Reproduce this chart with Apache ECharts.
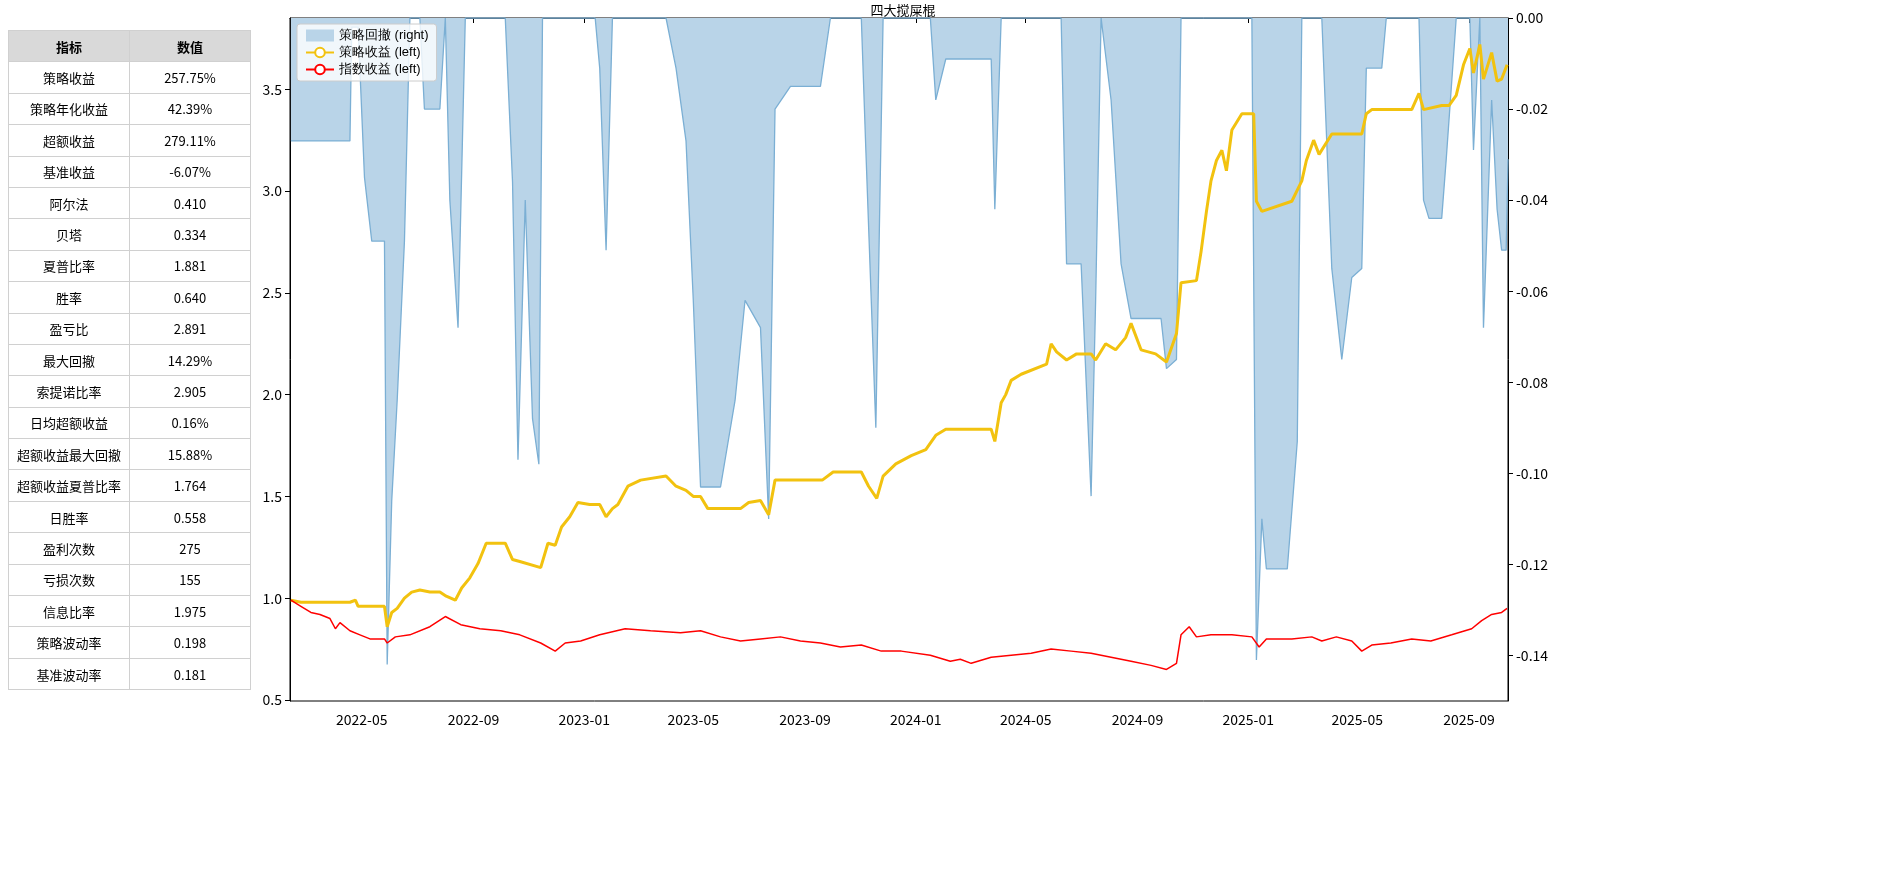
<!DOCTYPE html>
<html><head><meta charset="utf-8">
<script src="https://cdn.jsdelivr.net/npm/echarts@6/dist/echarts.min.js"></script>
<style>
body{margin:0;background:#fff;font-family:"Noto Sans CJK SC","DejaVu Sans",sans-serif;}
#chart{position:absolute;left:0;top:0;width:1900px;height:893px;}
#tbl{position:absolute;left:8px;top:30px;border-collapse:collapse;z-index:2;font-size:13px;}
#tbl td,#tbl th{border:1px solid #d0d0d0;width:120px;height:30.4px;padding:0;text-align:center;color:#000;}
#tbl th{background:#d9d9d9;font-weight:bold;}
</style></head><body>
<div id="chart"></div>
<table id="tbl"></table>
<script>
const metricNames=['策略收益','策略年化收益','超额收益','基准收益','阿尔法','贝塔','夏普比率','胜率','盈亏比','最大回撤','索提诺比率','日均超额收益','超额收益最大回撤','超额收益夏普比率','日胜率','盈利次数','亏损次数','信息比率','策略波动率','基准波动率'];
const metricValues=['257.75%','42.39%','279.11%','-6.07%','0.410','0.334','1.881','0.640','2.891','14.29%','2.905','0.16%','15.88%','1.764','0.558','275','155','1.975','0.198','0.181'];
const strategy=[['2022-02-12',0.99],['2022-02-23',0.98],['2022-04-18',0.98],['2022-04-24',0.99],['2022-04-27',0.96],['2022-05-26',0.96],['2022-05-29',0.86],['2022-06-03',0.93],['2022-06-09',0.95],['2022-06-17',1.00],['2022-06-25',1.03],['2022-07-04',1.04],['2022-07-15',1.03],['2022-07-26',1.03],['2022-08-02',1.01],['2022-08-12',0.99],['2022-08-19',1.05],['2022-08-28',1.10],['2022-09-06',1.17],['2022-09-15',1.27],['2022-10-06',1.27],['2022-10-14',1.19],['2022-10-22',1.18],['2022-11-14',1.15],['2022-11-22',1.27],['2022-11-30',1.26],['2022-12-07',1.35],['2022-12-16',1.40],['2022-12-25',1.47],['2023-01-07',1.46],['2023-01-18',1.46],['2023-01-25',1.40],['2023-02-01',1.44],['2023-02-07',1.46],['2023-02-18',1.55],['2023-03-04',1.58],['2023-04-01',1.60],['2023-04-12',1.55],['2023-04-23',1.53],['2023-05-01',1.50],['2023-05-09',1.50],['2023-05-17',1.44],['2023-06-22',1.44],['2023-07-01',1.47],['2023-07-14',1.48],['2023-07-23',1.41],['2023-07-30',1.58],['2023-09-20',1.58],['2023-10-02',1.62],['2023-11-02',1.62],['2023-11-10',1.55],['2023-11-19',1.49],['2023-11-26',1.60],['2023-12-10',1.66],['2023-12-27',1.70],['2024-01-12',1.73],['2024-01-23',1.80],['2024-02-03',1.83],['2024-03-24',1.83],['2024-03-28',1.77],['2024-04-04',1.96],['2024-04-09',2.00],['2024-04-15',2.07],['2024-04-26',2.10],['2024-05-24',2.15],['2024-05-29',2.25],['2024-06-04',2.21],['2024-06-15',2.17],['2024-06-26',2.20],['2024-07-12',2.20],['2024-07-17',2.17],['2024-07-28',2.25],['2024-08-08',2.22],['2024-08-19',2.28],['2024-08-25',2.35],['2024-09-05',2.22],['2024-09-21',2.20],['2024-10-03',2.16],['2024-10-14',2.30],['2024-10-19',2.55],['2024-11-05',2.56],['2024-11-10',2.70],['2024-11-16',2.90],['2024-11-21',3.05],['2024-11-27',3.15],['2024-12-03',3.20],['2024-12-08',3.10],['2024-12-14',3.30],['2024-12-25',3.38],['2025-01-07',3.38],['2025-01-10',2.95],['2025-01-16',2.90],['2025-02-18',2.95],['2025-03-01',3.05],['2025-03-06',3.15],['2025-03-14',3.25],['2025-03-20',3.18],['2025-04-03',3.28],['2025-05-06',3.28],['2025-05-11',3.38],['2025-05-17',3.40],['2025-06-30',3.40],['2025-07-08',3.48],['2025-07-13',3.40],['2025-08-02',3.42],['2025-08-10',3.42],['2025-08-18',3.47],['2025-08-26',3.62],['2025-09-02',3.70],['2025-09-06',3.58],['2025-09-13',3.72],['2025-09-17',3.55],['2025-09-26',3.68],['2025-10-02',3.54],['2025-10-07',3.55],['2025-10-13',3.62]];
const indexRet=[['2022-02-12',0.99],['2022-02-23',0.96],['2022-03-06',0.93],['2022-03-16',0.92],['2022-03-27',0.90],['2022-04-02',0.85],['2022-04-07',0.88],['2022-04-18',0.84],['2022-04-29',0.82],['2022-05-10',0.80],['2022-05-26',0.80],['2022-05-29',0.78],['2022-06-07',0.81],['2022-06-23',0.82],['2022-07-15',0.86],['2022-08-01',0.91],['2022-08-18',0.87],['2022-09-08',0.85],['2022-10-01',0.84],['2022-10-22',0.82],['2022-11-14',0.78],['2022-11-30',0.74],['2022-12-11',0.78],['2022-12-28',0.79],['2023-01-18',0.82],['2023-02-15',0.85],['2023-03-15',0.84],['2023-04-17',0.83],['2023-05-09',0.84],['2023-05-31',0.81],['2023-06-22',0.79],['2023-07-14',0.80],['2023-08-05',0.81],['2023-08-27',0.79],['2023-09-18',0.78],['2023-10-10',0.76],['2023-11-02',0.77],['2023-11-24',0.74],['2023-12-16',0.74],['2024-01-17',0.72],['2024-02-08',0.69],['2024-02-19',0.70],['2024-03-02',0.68],['2024-03-24',0.71],['2024-04-15',0.72],['2024-05-07',0.73],['2024-05-29',0.75],['2024-06-20',0.74],['2024-07-12',0.73],['2024-08-03',0.71],['2024-08-25',0.69],['2024-09-16',0.67],['2024-10-03',0.65],['2024-10-14',0.68],['2024-10-19',0.82],['2024-10-28',0.86],['2024-11-05',0.81],['2024-11-21',0.82],['2024-12-14',0.82],['2025-01-05',0.81],['2025-01-13',0.76],['2025-01-21',0.80],['2025-02-18',0.80],['2025-03-12',0.81],['2025-03-23',0.79],['2025-04-08',0.81],['2025-04-25',0.79],['2025-05-06',0.74],['2025-05-17',0.77],['2025-06-07',0.78],['2025-06-30',0.80],['2025-07-21',0.79],['2025-08-13',0.82],['2025-09-04',0.85],['2025-09-15',0.89],['2025-09-26',0.92],['2025-10-07',0.93],['2025-10-13',0.95]];
const drawdown=[['2022-02-12',-0.027],['2022-04-18',-0.027],['2022-04-20',-0.002],['2022-04-27',-0.002],['2022-05-04',-0.035],['2022-05-12',-0.049],['2022-05-26',-0.049],['2022-05-29',-0.142],['2022-06-03',-0.106],['2022-06-09',-0.084],['2022-06-17',-0.049],['2022-06-23',0],['2022-07-04',0],['2022-07-09',-0.020],['2022-07-26',-0.020],['2022-08-01',0],['2022-08-06',-0.04],['2022-08-15',-0.068],['2022-08-23',0],['2022-10-06',0],['2022-10-14',-0.036],['2022-10-20',-0.097],['2022-10-28',-0.04],['2022-11-05',-0.088],['2022-11-12',-0.098],['2022-11-16',0],['2023-01-13',0],['2023-01-18',-0.011],['2023-01-25',-0.051],['2023-02-01',0],['2023-04-01',0],['2023-04-12',-0.011],['2023-04-23',-0.027],['2023-05-01',-0.062],['2023-05-09',-0.103],['2023-05-31',-0.103],['2023-06-16',-0.084],['2023-06-27',-0.062],['2023-07-14',-0.068],['2023-07-23',-0.11],['2023-07-30',-0.020],['2023-08-16',-0.015],['2023-09-18',-0.015],['2023-09-29',0],['2023-11-02',0],['2023-11-07',-0.029],['2023-11-18',-0.09],['2023-11-26',0],['2024-01-17',0],['2024-01-23',-0.018],['2024-02-03',-0.009],['2024-03-24',-0.009],['2024-03-28',-0.042],['2024-04-04',0],['2024-06-09',0],['2024-06-15',-0.054],['2024-07-01',-0.054],['2024-07-12',-0.105],['2024-07-17',-0.062],['2024-07-23',0],['2024-08-03',-0.018],['2024-08-14',-0.054],['2024-08-25',-0.066],['2024-09-27',-0.066],['2024-10-03',-0.077],['2024-10-14',-0.075],['2024-10-19',0],['2025-01-05',0],['2025-01-10',-0.141],['2025-01-16',-0.11],['2025-01-21',-0.121],['2025-02-13',-0.121],['2025-02-24',-0.093],['2025-03-01',0],['2025-03-23',0],['2025-04-03',-0.055],['2025-04-14',-0.075],['2025-04-25',-0.057],['2025-05-06',-0.055],['2025-05-11',-0.011],['2025-05-28',-0.011],['2025-06-02',0],['2025-07-08',0],['2025-07-13',-0.040],['2025-07-19',-0.044],['2025-08-02',-0.044],['2025-08-07',-0.031],['2025-08-18',0],['2025-09-02',0],['2025-09-06',-0.029],['2025-09-13',0],['2025-09-17',-0.068],['2025-09-26',-0.018],['2025-10-02',-0.042],['2025-10-07',-0.051],['2025-10-12',-0.051],['2025-10-14',-0.031]];
const xTicks=['2022-05-01','2022-09-01','2023-01-01','2023-05-01','2023-09-01','2024-01-01','2024-05-01','2024-09-01','2025-01-01','2025-05-01','2025-09-01'];
const leftTicks=[0.5,1.0,1.5,2.0,2.5,3.0,3.5];
const rightTicks=[-0.14,-0.12,-0.10,-0.08,-0.06,-0.04,-0.02,0.00];

let h='<tr><th>指标</th><th>数值</th></tr>';
metricNames.forEach((n,i)=>{h+='<tr><td>'+n+'</td><td>'+metricValues[i]+'</td></tr>';});
document.getElementById('tbl').innerHTML=h;

const ts=d=>Date.parse(d+'T00:00:00Z');
const conv=arr=>arr.map(p=>[ts(p[0]),p[1]]);
const fmtDate=v=>{const d=new Date(v);return d.getUTCFullYear()+'-'+String(d.getUTCMonth()+1).padStart(2,'0');};
const chart=echarts.init(document.getElementById('chart'));
const lab={color:'#000',fontSize:14,fontFamily:'"Noto Sans CJK SC","DejaVu Sans",sans-serif'};
chart.setOption({
  animation:false,
  title:{text:'四大搅屎棍',left:898,top:-1,textAlign:'center',textStyle:{fontSize:13,fontWeight:'normal',color:'#000',fontFamily:'"Noto Sans CJK SC",sans-serif'}},
  legend:{orient:'vertical',left:297,top:24,itemGap:4,itemWidth:28,itemHeight:12,padding:[5,8],backgroundColor:'rgba(255,255,255,0.8)',borderColor:'#ccc',borderWidth:1,borderRadius:3,textStyle:{fontSize:13,color:'#000'},
    data:[{name:'策略回撤 (right)',icon:'rect'},{name:'策略收益 (left)'},{name:'指数收益 (left)'}]},
  grid:{left:290,right:392,top:18,bottom:192,show:true,borderColor:'#000',borderWidth:1,backgroundColor:'transparent'},
  xAxis:{type:'value',min:ts('2022-02-11'),max:ts('2025-10-14'),scale:true,splitLine:{show:false},
    axisLine:{lineStyle:{color:'#000'}},axisTick:{customValues:xTicks.map(ts),lineStyle:{color:'#000'}},
    axisLabel:Object.assign({customValues:xTicks.map(ts),formatter:fmtDate,margin:12},lab)},
  yAxis:[
    {type:'value',min:0.495,max:3.85,splitLine:{show:false},axisLine:{show:true,lineStyle:{color:'#000'}},
     axisTick:{show:true,customValues:leftTicks,lineStyle:{color:'#000'}},axisLabel:Object.assign({customValues:leftTicks,formatter:v=>v.toFixed(1)},lab)},
    {type:'value',min:-0.15,max:0,position:'right',splitLine:{show:false},axisLine:{show:true,lineStyle:{color:'#000'}},
     axisTick:{show:true,customValues:rightTicks,lineStyle:{color:'#000'}},axisLabel:Object.assign({customValues:rightTicks,formatter:v=>v.toFixed(2)},lab)}
  ],
  series:[
    {name:'策略回撤 (right)',type:'line',yAxisIndex:1,data:conv(drawdown),showSymbol:false,z:1,
     itemStyle:{color:'#b9d4e8',borderColor:'#7bafd4'},lineStyle:{color:'#7bafd4',width:1.3},areaStyle:{color:'#b9d4e8',opacity:1,origin:'end'}},
    {name:'策略收益 (left)',type:'line',yAxisIndex:0,data:conv(strategy),showSymbol:false,z:3,itemStyle:{color:'#f2c20f'},lineStyle:{color:'#f2c20f',width:3}},
    {name:'指数收益 (left)',type:'line',yAxisIndex:0,data:conv(indexRet),showSymbol:false,z:4,itemStyle:{color:'#ff0000'},lineStyle:{color:'#ff0000',width:1.5}}
  ]
});
</script></body></html>
